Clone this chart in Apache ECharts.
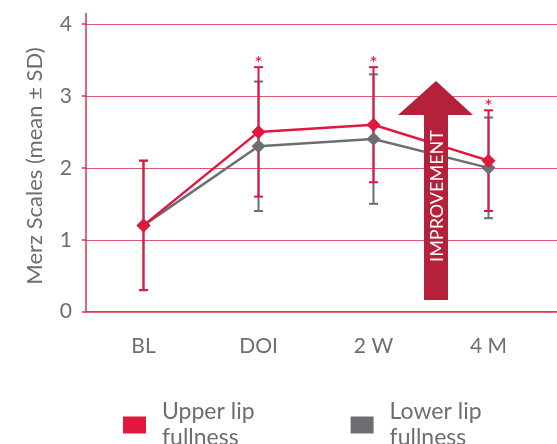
<!DOCTYPE html>
<html>
<head>
<meta charset="utf-8">
<script src="https://cdn.jsdelivr.net/npm/echarts@6/dist/echarts.min.js"></script>
<style>
html,body{margin:0;padding:0;background:#fff;}
#chart{width:557px;height:444px;}
</style>
</head>
<body>
<div id="chart"></div>
<script>
const categories = ['BL', 'DOI', '2 W', '4 M'];
const yTicks = [0, 1, 2, 3, 4];
const yTitle = 'Merz Scales (mean \u00b1 SD)';
const upperName = 'Upper lip\nfullness';
const lowerName = 'Lower lip\nfullness';
const upperMean = [1.2, 2.5, 2.6, 2.1];
const upperLow  = [0.3, 1.6, 1.8, 1.4];
const upperHigh = [2.1, 3.4, 3.4, 2.8];
const lowerMean = [1.2, 2.3, 2.4, 2.0];
const lowerLow  = [0.3, 1.4, 1.5, 1.3];
const lowerHigh = [2.1, 3.2, 3.3, 2.7];
const significant = [false, true, true, true];

const RED = '#e2173f';
const GRAY = '#6d6e71';
const ARROW = '#b5203b';
const TEXT = '#6d6e71';
const AXIS = '#d9304f';
const GRIDC = '#d9566f';
const FONT = 'Lato, "Noto Sans", sans-serif';

function errData(low, high, sig) {
  return low.map((l, i) => [i, l, high[i], sig ? (sig[i] ? 1 : 0) : 0]);
}
function errRender(color) {
  return function (params, api) {
    const i = api.value(0);
    const lo = api.coord([i, api.value(1)]);
    const hi = api.coord([i, api.value(2)]);
    const cap = 4.5;
    const children = [
      {type: 'line', shape: {x1: lo[0], y1: lo[1], x2: hi[0], y2: hi[1]}, style: {stroke: color, lineWidth: 2}},
      {type: 'line', shape: {x1: lo[0] - cap, y1: lo[1], x2: lo[0] + cap, y2: lo[1]}, style: {stroke: color, lineWidth: 2}},
      {type: 'line', shape: {x1: hi[0] - cap, y1: hi[1], x2: hi[0] + cap, y2: hi[1]}, style: {stroke: color, lineWidth: 2}}
    ];
    if (api.value(3) === 1) {
      children.push({type: 'text', x: hi[0], y: hi[1] - 4,
        style: {text: '*', fill: color, font: '20px ' + FONT, align: 'center', verticalAlign: 'middle'}});
    }
    return {type: 'group', children: children};
  };
}

const chart = echarts.init(document.getElementById('chart'), null, {renderer: 'canvas'});
chart.setOption({
  animation: false,
  backgroundColor: '#fff',
  textStyle: {fontFamily: FONT},
  grid: [
    {left: 86, top: 24, height: 287.7, width: 460},
    {left: 546, top: 24, height: 287.7, width: 20}
  ],
  legend: {
    data: [upperName, lowerName],
    left: 123, top: 399, padding: 0,
    icon: 'rect', itemWidth: 23, itemHeight: 17, itemGap: 96,
    textStyle: {fontSize: 23, lineHeight: 26, color: TEXT, fontFamily: FONT, padding: [0, 0, 0, 11]}
  },
  xAxis: [{
    type: 'category', data: categories, boundaryGap: true, gridIndex: 0,
    axisLine: {lineStyle: {color: AXIS, width: 1.5}},
    axisTick: {length: 5, lineStyle: {color: AXIS, width: 1.5}, interval: function (i) { return i !== 2; }},
    axisLabel: {fontSize: 21, color: TEXT, margin: 24, fontFamily: FONT}
  }, {
    type: 'value', gridIndex: 1, min: 0, max: 1,
    axisLine: {show: true, lineStyle: {color: AXIS, width: 1.5}},
    axisTick: {show: false}, axisLabel: {show: false}, splitLine: {show: false}
  }],
  yAxis: [{
    type: 'value', gridIndex: 0, min: yTicks[0], max: yTicks[yTicks.length - 1], interval: 1,
    axisLine: {show: true, lineStyle: {color: AXIS, width: 1.5}},
    axisTick: {show: true, length: 4, lineStyle: {color: AXIS, width: 1.5}},
    axisLabel: {fontSize: 21, color: TEXT, margin: 14, fontFamily: FONT},
    splitLine: {lineStyle: {color: GRIDC, width: 1}}
  }, {
    type: 'value', gridIndex: 1, min: yTicks[0], max: yTicks[yTicks.length - 1], interval: 1,
    axisLine: {show: false}, axisTick: {show: false}, axisLabel: {show: false},
    splitLine: {lineStyle: {color: GRIDC, width: 1}}
  }],
  series: [
    {type: 'custom', name: 'lowerErr', renderItem: errRender(GRAY), data: errData(lowerLow, lowerHigh, null), z: 2, silent: true},
    {type: 'custom', name: 'upperErr', renderItem: errRender(RED), data: errData(upperLow, upperHigh, significant), z: 3, silent: true},
    {type: 'line', name: lowerName, data: lowerMean, symbol: 'diamond', symbolSize: 14,
     itemStyle: {color: GRAY}, lineStyle: {color: GRAY, width: 2.5}, z: 4},
    {type: 'line', name: upperName, data: upperMean, symbol: 'diamond', symbolSize: 14,
     itemStyle: {color: RED}, lineStyle: {color: RED, width: 2.5}, z: 5}
  ],
  graphic: [
    {type: 'text', x: 35, y: 166, rotation: Math.PI / 2,
     style: {text: yTitle, fill: TEXT, font: '22px ' + FONT, align: 'center', verticalAlign: 'middle'}},
    {type: 'line', shape: {x1: 86, y1: 13, x2: 86, y2: 24}, style: {stroke: AXIS, lineWidth: 1.5}, z: 10},
    {type: 'polygon', z: 100,
     shape: {points: [[436, 81], [473, 115], [448, 115], [448, 300], [424, 300], [424, 115], [398, 115]]},
     style: {fill: ARROW}},
    {type: 'text', z: 101, x: 437, y: 196, rotation: Math.PI / 2,
     style: {text: 'IMPROVEMENT', fill: '#fff', font: '18px ' + FONT, align: 'center', verticalAlign: 'middle'}}
  ]
});
</script>
</body>
</html>
